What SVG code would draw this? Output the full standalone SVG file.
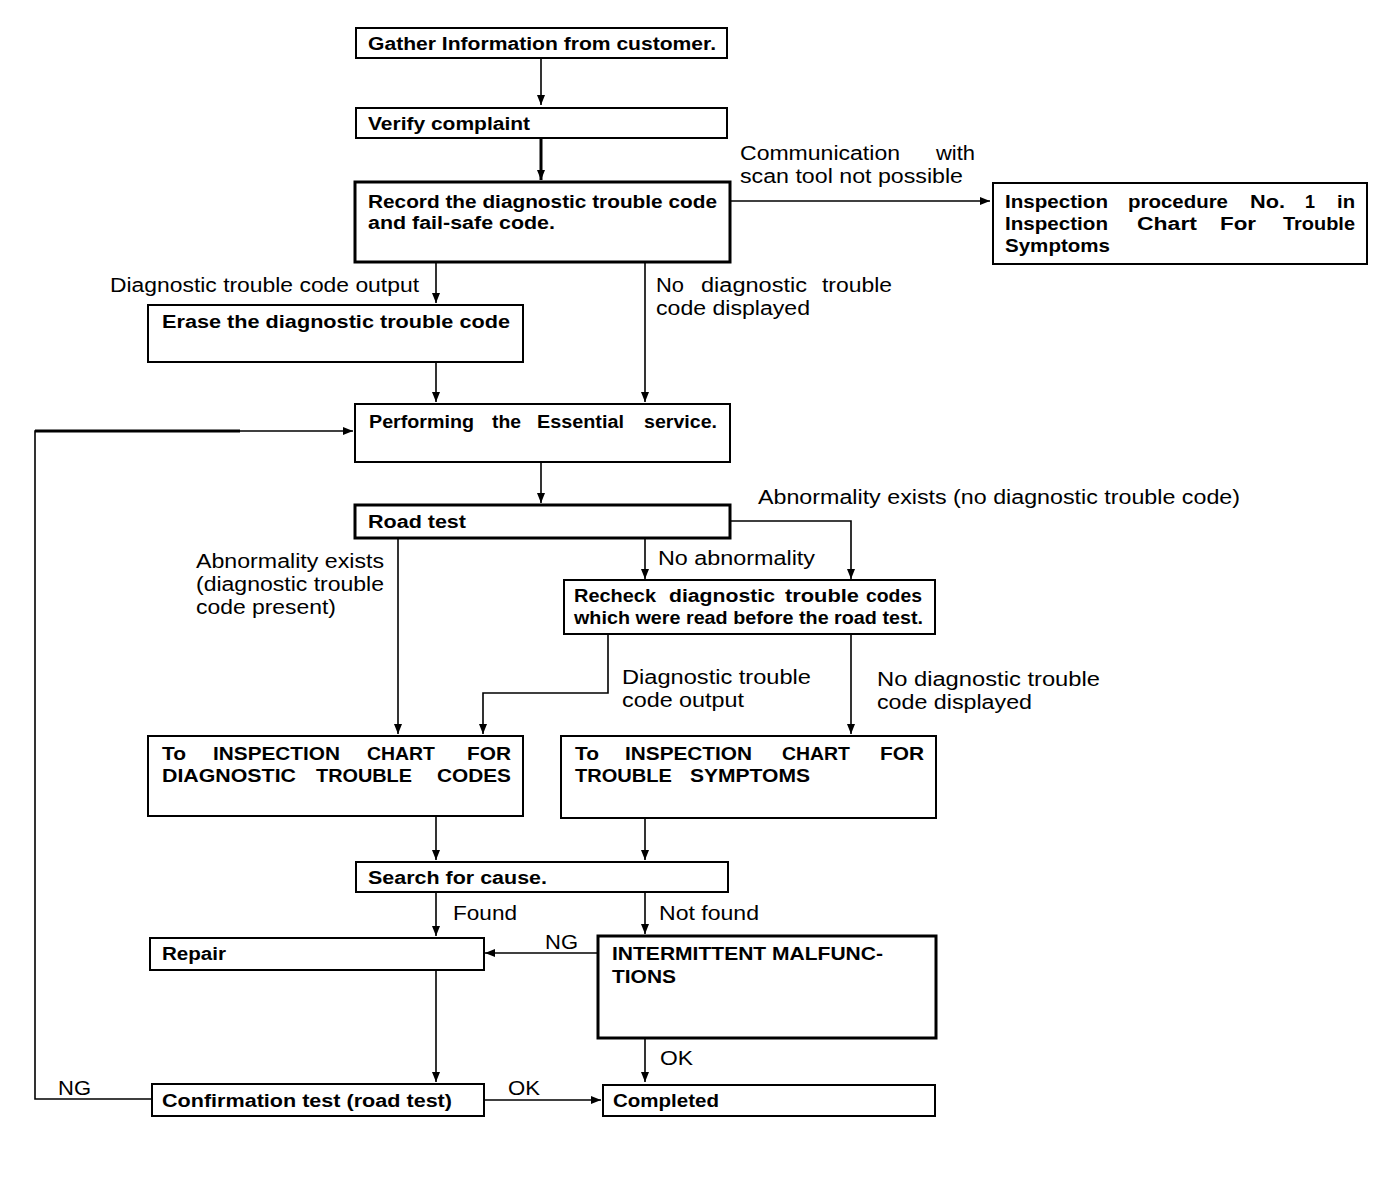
<svg xmlns="http://www.w3.org/2000/svg" width="1392" height="1184" viewBox="0 0 1392 1184">
<style>
.box{fill:#fff;stroke:#000;stroke-width:2}
.thick{stroke-width:3}
.nt{font-family:"Liberation Sans",Arial,sans-serif;font-weight:bold;font-size:18px;fill:#000}
.lb{font-family:"Liberation Sans",Arial,sans-serif;font-size:20px;fill:#000}
.c{fill:none;stroke:#000;stroke-width:1.6}
.cw{fill:none;stroke:#000;stroke-width:3}
</style>
<defs>
<marker id="ah" viewBox="0 0 10 10" refX="10" refY="5" markerWidth="10" markerHeight="10" markerUnits="userSpaceOnUse" orient="auto">
<path d="M0,1 L10,5 L0,9 Z" fill="#000"/>
</marker>
</defs>
<rect width="1392" height="1184" fill="#fff"/>
<g id="connectors">
<path class="c" d="M541,58 V105" marker-end="url(#ah)"/>
<path class="cw" d="M541,138 V180" marker-end="url(#ah)"/>
<path class="c" d="M730,201 H990" marker-end="url(#ah)"/>
<path class="c" d="M436,262 V303" marker-end="url(#ah)"/>
<path class="c" d="M645,262 V402" marker-end="url(#ah)"/>
<path class="c" d="M436,362 V402" marker-end="url(#ah)"/>
<path class="c" d="M541,462 V503" marker-end="url(#ah)"/>
<path class="c" d="M730,521 H851 V579" marker-end="url(#ah)"/>
<path class="c" d="M645,538 V579" marker-end="url(#ah)"/>
<path class="c" d="M398,538 V734" marker-end="url(#ah)"/>
<path class="c" d="M608,634 V693 H483 V734" marker-end="url(#ah)"/>
<path class="c" d="M851,634 V734" marker-end="url(#ah)"/>
<path class="c" d="M436,816 V860" marker-end="url(#ah)"/>
<path class="c" d="M645,818 V860" marker-end="url(#ah)"/>
<path class="c" d="M436,892 V936" marker-end="url(#ah)"/>
<path class="c" d="M645,892 V934" marker-end="url(#ah)"/>
<path class="c" d="M598,953 H485" marker-end="url(#ah)"/>
<path class="c" d="M436,970 V1082" marker-end="url(#ah)"/>
<path class="c" d="M645,1038 V1082" marker-end="url(#ah)"/>
<path class="c" d="M484,1100 H601" marker-end="url(#ah)"/>
<path class="c" d="M152,1099 H35 V431 H240"/>
<path class="cw" d="M35,431 H240"/>
<path class="c" d="M240,431 H353" marker-end="url(#ah)"/>
<text class="lb" x="740" y="160" textLength="160" lengthAdjust="spacingAndGlyphs">Communication</text><text class="lb" x="936" y="160" textLength="39" lengthAdjust="spacingAndGlyphs">with</text>
<text class="lb" x="740" y="183" textLength="223" lengthAdjust="spacingAndGlyphs">scan tool not possible</text>
<text class="lb" x="110" y="292" textLength="309" lengthAdjust="spacingAndGlyphs">Diagnostic trouble code output</text>
<text class="lb" x="656" y="292" textLength="28" lengthAdjust="spacingAndGlyphs">No</text><text class="lb" x="701" y="292" textLength="106" lengthAdjust="spacingAndGlyphs">diagnostic</text><text class="lb" x="822" y="292" textLength="70" lengthAdjust="spacingAndGlyphs">trouble</text>
<text class="lb" x="656" y="315" textLength="154" lengthAdjust="spacingAndGlyphs">code displayed</text>
<text class="lb" x="758" y="504" textLength="482" lengthAdjust="spacingAndGlyphs">Abnormality exists (no diagnostic trouble code)</text>
<text class="lb" x="658" y="565" textLength="157" lengthAdjust="spacingAndGlyphs">No abnormality</text>
<text class="lb" x="196" y="568" textLength="188" lengthAdjust="spacingAndGlyphs">Abnormality exists</text>
<text class="lb" x="196" y="591" textLength="188" lengthAdjust="spacingAndGlyphs">(diagnostic trouble</text>
<text class="lb" x="196" y="614" textLength="140" lengthAdjust="spacingAndGlyphs">code present)</text>
<text class="lb" x="622" y="684" textLength="189" lengthAdjust="spacingAndGlyphs">Diagnostic trouble</text>
<text class="lb" x="622" y="707" textLength="122" lengthAdjust="spacingAndGlyphs">code output</text>
<text class="lb" x="877" y="686" textLength="223" lengthAdjust="spacingAndGlyphs">No diagnostic trouble</text>
<text class="lb" x="877" y="709" textLength="155" lengthAdjust="spacingAndGlyphs">code displayed</text>
<text class="lb" x="453" y="920" textLength="64" lengthAdjust="spacingAndGlyphs">Found</text>
<text class="lb" x="659" y="920" textLength="100" lengthAdjust="spacingAndGlyphs">Not found</text>
<text class="lb" x="545" y="949" textLength="33" lengthAdjust="spacingAndGlyphs">NG</text>
<text class="lb" x="660" y="1065" textLength="33" lengthAdjust="spacingAndGlyphs">OK</text>
<text class="lb" x="58" y="1095" textLength="33" lengthAdjust="spacingAndGlyphs">NG</text>
<text class="lb" x="508" y="1095" textLength="32" lengthAdjust="spacingAndGlyphs">OK</text>
</g>
<g id="n-gather"><rect class="box" x="356" y="28" width="371" height="30"/><text class="nt" x="368" y="50" textLength="348" lengthAdjust="spacingAndGlyphs">Gather Information from customer.</text></g>
<g id="n-verify"><rect class="box" x="356" y="108" width="371" height="30"/><text class="nt" x="368" y="130" textLength="162" lengthAdjust="spacingAndGlyphs">Verify complaint</text></g>
<g id="n-record"><rect class="box thick" x="355" y="182" width="375" height="80"/><text class="nt" x="368" y="208" textLength="349" lengthAdjust="spacingAndGlyphs">Record the diagnostic trouble code</text><text class="nt" x="368" y="229" textLength="187" lengthAdjust="spacingAndGlyphs">and fail-safe code.</text></g>
<g id="n-inspection1"><rect class="box" x="993" y="183" width="374" height="81"/>
<text class="nt" x="1005" y="208" textLength="103" lengthAdjust="spacingAndGlyphs">Inspection</text><text class="nt" x="1128" y="208" textLength="100" lengthAdjust="spacingAndGlyphs">procedure</text><text class="nt" x="1250" y="208" textLength="35" lengthAdjust="spacingAndGlyphs">No.</text><text class="nt" x="1305" y="208" textLength="10" lengthAdjust="spacingAndGlyphs">1</text><text class="nt" x="1337" y="208" textLength="18" lengthAdjust="spacingAndGlyphs">in</text>
<text class="nt" x="1005" y="230" textLength="103" lengthAdjust="spacingAndGlyphs">Inspection</text><text class="nt" x="1137" y="230" textLength="60" lengthAdjust="spacingAndGlyphs">Chart</text><text class="nt" x="1220" y="230" textLength="36" lengthAdjust="spacingAndGlyphs">For</text><text class="nt" x="1283" y="230" textLength="72" lengthAdjust="spacingAndGlyphs">Trouble</text>
<text class="nt" x="1005" y="252" textLength="105" lengthAdjust="spacingAndGlyphs">Symptoms</text></g>
<g id="n-erase"><rect class="box" x="148" y="305" width="375" height="57"/><text class="nt" x="162" y="328" textLength="348" lengthAdjust="spacingAndGlyphs">Erase the diagnostic trouble code</text></g>
<g id="n-essential"><rect class="box" x="355" y="404" width="375" height="58"/><text class="nt" x="369" y="428" textLength="105" lengthAdjust="spacingAndGlyphs">Performing</text><text class="nt" x="492" y="428" textLength="29" lengthAdjust="spacingAndGlyphs">the</text><text class="nt" x="537" y="428" textLength="87" lengthAdjust="spacingAndGlyphs">Essential</text><text class="nt" x="644" y="428" textLength="73" lengthAdjust="spacingAndGlyphs">service.</text></g>
<g id="n-roadtest"><rect class="box thick" x="355" y="505" width="375" height="33"/><text class="nt" x="368" y="528" textLength="98" lengthAdjust="spacingAndGlyphs">Road test</text></g>
<g id="n-recheck"><rect class="box" x="564" y="580" width="371" height="54"/><text class="nt" x="574" y="602" textLength="82" lengthAdjust="spacingAndGlyphs">Recheck</text><text class="nt" x="669" y="602" textLength="106" lengthAdjust="spacingAndGlyphs">diagnostic</text><text class="nt" x="785" y="602" textLength="74" lengthAdjust="spacingAndGlyphs">trouble</text><text class="nt" x="866" y="602" textLength="56" lengthAdjust="spacingAndGlyphs">codes</text><text class="nt" x="574" y="624" textLength="349" lengthAdjust="spacingAndGlyphs">which were read before the road test.</text></g>
<g id="n-chart-dtc"><rect class="box" x="148" y="736" width="375" height="80"/><text class="nt" x="162" y="760" textLength="24" lengthAdjust="spacingAndGlyphs">To</text><text class="nt" x="213" y="760" textLength="127" lengthAdjust="spacingAndGlyphs">INSPECTION</text><text class="nt" x="367" y="760" textLength="68" lengthAdjust="spacingAndGlyphs">CHART</text><text class="nt" x="467" y="760" textLength="44" lengthAdjust="spacingAndGlyphs">FOR</text><text class="nt" x="162" y="782" textLength="134" lengthAdjust="spacingAndGlyphs">DIAGNOSTIC</text><text class="nt" x="316" y="782" textLength="96" lengthAdjust="spacingAndGlyphs">TROUBLE</text><text class="nt" x="437" y="782" textLength="74" lengthAdjust="spacingAndGlyphs">CODES</text></g>
<g id="n-chart-ts"><rect class="box" x="561" y="736" width="375" height="82"/><text class="nt" x="575" y="760" textLength="24" lengthAdjust="spacingAndGlyphs">To</text><text class="nt" x="625" y="760" textLength="127" lengthAdjust="spacingAndGlyphs">INSPECTION</text><text class="nt" x="782" y="760" textLength="68" lengthAdjust="spacingAndGlyphs">CHART</text><text class="nt" x="880" y="760" textLength="44" lengthAdjust="spacingAndGlyphs">FOR</text><text class="nt" x="575" y="782" textLength="97" lengthAdjust="spacingAndGlyphs">TROUBLE</text><text class="nt" x="690" y="782" textLength="120" lengthAdjust="spacingAndGlyphs">SYMPTOMS</text></g>
<g id="n-search"><rect class="box" x="356" y="862" width="372" height="30"/><text class="nt" x="368" y="884" textLength="179" lengthAdjust="spacingAndGlyphs">Search for cause.</text></g>
<g id="n-repair"><rect class="box" x="150" y="938" width="334" height="32"/><text class="nt" x="162" y="960" textLength="64" lengthAdjust="spacingAndGlyphs">Repair</text></g>
<g id="n-intermittent"><rect class="box thick" x="598" y="936" width="338" height="102"/><text class="nt" x="612" y="960" textLength="271" lengthAdjust="spacingAndGlyphs">INTERMITTENT MALFUNC-</text><text class="nt" x="612" y="983" textLength="64" lengthAdjust="spacingAndGlyphs">TIONS</text></g>
<g id="n-confirm"><rect class="box" x="152" y="1084" width="332" height="32"/><text class="nt" x="162" y="1107" textLength="290" lengthAdjust="spacingAndGlyphs">Confirmation test (road test)</text></g>
<g id="n-completed"><rect class="box" x="603" y="1085" width="332" height="31"/><text class="nt" x="613" y="1107" textLength="106" lengthAdjust="spacingAndGlyphs">Completed</text></g>
</svg>
